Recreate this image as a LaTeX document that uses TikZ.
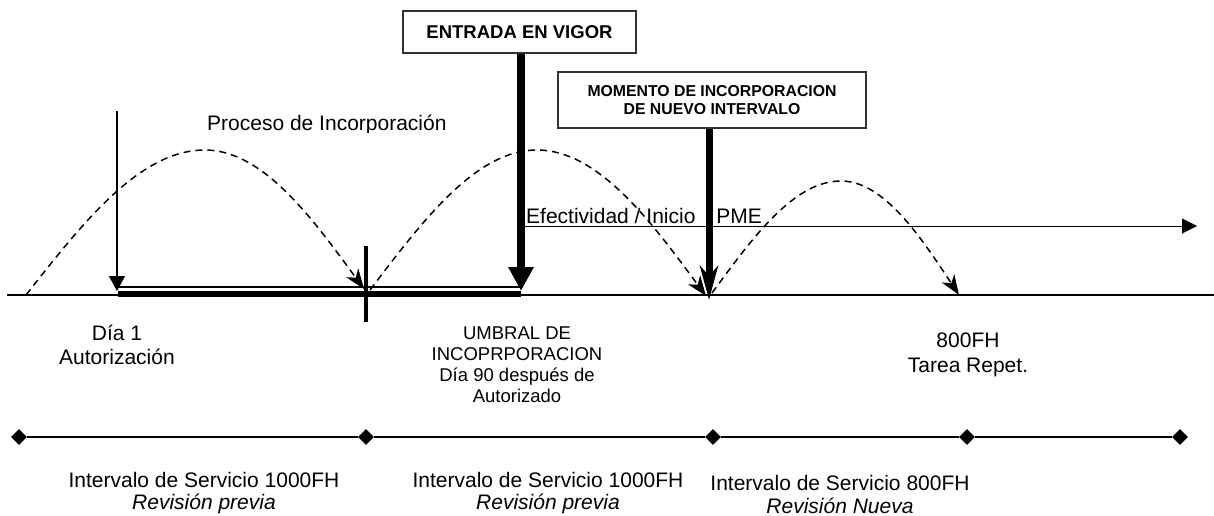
\documentclass[tikz,border=0pt]{standalone}
\usepackage{fontspec}
\setmainfont{Liberation Sans}
\usetikzlibrary{arrows.meta,shapes.geometric}
\begin{document}
\begin{tikzpicture}[x=1pt,y=-1pt,
  lbl/.style={inner sep=0pt,font=\fontsize{21}{24}\selectfont,align=center},
  sml/.style={inner sep=0pt,font=\fontsize{18.5}{21}\selectfont,align=center},
  box/.style={draw=black!80,line width=1.3pt,fill=white,inner sep=0pt,align=center,font=\bfseries},
  dsh/.style={line width=1.5pt,dash pattern=on 7pt off 5pt,-{Stealth[length=20pt,width=15pt,inset=6pt]}},
  diam/.style={diamond,fill=black,inner sep=0pt,minimum width=16pt,minimum height=16pt},
  thin/.style={line width=1.3pt}
]
\useasboundingbox[fill=white] (0,0) rectangle (1214,516);

% main axis
\coordinate (ax0) at (7,295);
\coordinate (ax1) at (1214,295);
\draw[thin] (ax0) -- (ax1);

% double bar
\coordinate (b0) at (118,294);
\coordinate (b1) at (521,294);
\coordinate (t0) at (118,287);
\coordinate (t1) at (521,287);
\draw[line width=6.5pt] (b0) -- (b1);
\draw[thin] (t0) -- (t1);

% cross tick
\coordinate (c0) at (366,246);
\coordinate (c1) at (366,322);
\draw[line width=4.5pt] (c0) -- (c1);

% dashed arcs
\coordinate (a1s) at (26,295);
\coordinate (a1p) at (205,150);
\coordinate (a1e) at (364,289);
\coordinate (a2s) at (370,290);
\coordinate (a2p) at (537,150);
\coordinate (a2e) at (706,296);
\coordinate (a3s) at (712,293);
\coordinate (a3p) at (841,181);
\coordinate (a3e) at (959,295);
\draw[dsh] (a1s) sin (a1p) cos (a1e);
\draw[dsh] (a2s) sin (a2p) cos (a2e);
\draw[dsh] (a3s) sin (a3p) cos (a3e);

% thin vertical arrow
\coordinate (v0) at (117,111);
\coordinate (v1) at (117,291);
\draw[thin,-{Triangle[length=15pt,width=16pt]}] (v0) -- (v1);

% Efectividad arrow
\coordinate (h0) at (521,226);
\coordinate (h1) at (1197,226);
\draw[line width=1pt,-{Triangle[length=15pt,width=15pt]}] (h0) -- (h1);
\node[lbl,anchor=base west] (ef) at (526,223) {Efectividad / Inicio\hspace{15pt} PME};

% boxes and thick arrows
\node[box,minimum width=233pt,minimum height=42pt,font=\bfseries\fontsize{18.5}{21}\selectfont] (ev) at (519.5,32) {ENTRADA EN VIGOR};
\node[box,minimum width=308pt,minimum height=56pt,font=\bfseries\fontsize{15.8}{17.5}\selectfont] (mi) at (712,100) {MOMENTO DE INCORPORACION\\DE NUEVO INTERVALO};
\coordinate (evtip) at (521,291);
\coordinate (mitip) at (709,300);
\draw[line width=8pt,-{Triangle[length=24pt,width=24pt]}] (ev.south -| evtip) -- (evtip);
\draw[line width=7pt,-{Stealth[length=34pt,width=18pt,inset=10pt]}] (mi.south -| mitip) -- (mitip);

% Proceso text (clipped at baseline as in the reference)
\begin{scope}
\clip (190,100) rectangle (470,132);
\node[lbl,anchor=base west] (pr) at (207,131) {Proceso de Incorporación};
\end{scope}

% upper labels (base anchor = baseline of last line)
\node[lbl,anchor=base] (dia) at (117,364) {Día 1\\Autorización};
\node[sml,anchor=base] (umb) at (517,402) {UMBRAL DE\\INCOPRPORACION\\Día 90 después de\\Autorizado};
\node[lbl,anchor=base,font=\fontsize{21}{25}\selectfont] (fh) at (968,372) {800FH\\Tarea Repet.};

% bottom timeline
\node[diam] (d1) at (19,437) {};
\node[diam] (d2) at (366,437) {};
\node[diam] (d3) at (713,437) {};
\node[diam] (d4) at (967,437) {};
\node[diam] (d5) at (1180,437) {};
\draw[line width=1.6pt] (d1) -- (d2) -- (d3) -- (d4) -- (d5);

\node[lbl,anchor=base,font=\fontsize{21}{22}\selectfont] (i1) at (204,509) {Intervalo de Servicio 1000FH\\\itshape Revisión previa};
\node[lbl,anchor=base,font=\fontsize{21}{22}\selectfont] (i2) at (548,509) {Intervalo de Servicio 1000FH\\\itshape Revisión previa};
\node[lbl,anchor=base,font=\fontsize{21}{23}\selectfont] (i3) at (840,513) {Intervalo de Servicio 800FH\\\itshape Revisión Nueva};
\end{tikzpicture}
\end{document}
